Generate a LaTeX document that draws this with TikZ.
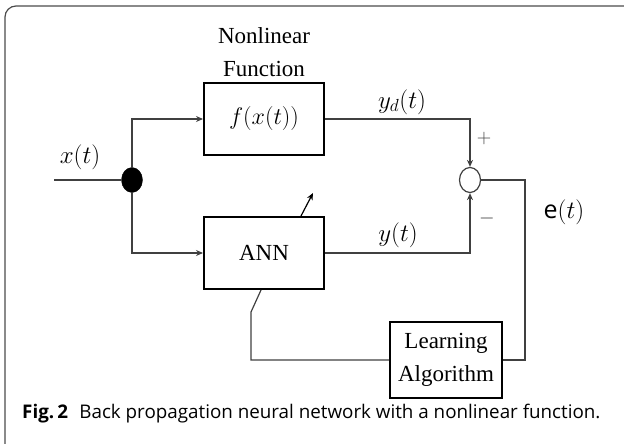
\RequirePackage{fix-cm}
\documentclass[tikz,border=0pt]{standalone}
\usepackage{fontspec}
\setmainfont{Liberation Serif}
\newfontfamily\capfont{Open Sans}
\usetikzlibrary{shapes.geometric,arrows.meta}
\tikzset{
  blk/.style={draw=black,line width=2pt,rectangle,minimum width=120pt,minimum height=72pt,inner sep=0pt,font=\fontsize{23}{33}\selectfont,align=center},
  conn/.style={draw=black!75,line width=1.2pt},
  arr/.style={conn,-{Stealth[length=7pt,width=6pt]}},
  lbl/.style={font=\fontsize{25}{28}\selectfont,inner sep=0pt},
  sgn/.style={font=\fontsize{20}{22}\selectfont,inner sep=0pt,text=black!75},
}
\begin{document}
\begin{tikzpicture}[x=1pt,y=-1pt]
\useasboundingbox (0,0) rectangle (624,444);
\begin{scope}
\clip (0,0) rectangle (624,444);
\draw[black!70,line width=1.2pt,rounded corners=11pt] (5,6) rectangle (660,470);
\end{scope}
% text above
\node[font=\fontsize{23}{33}\selectfont,align=center,inner sep=0pt] (nl) at (264,52) {Nonlinear\\Function};
% blocks
\node[blk,font=\fontsize{24}{30}\selectfont] (fb) at (264,119) {$f(x(t))$};
\node[blk] (ann) at (264,253) {ANN};
\node[blk,minimum width=112pt,minimum height=76pt] (la) at (446,360) {Learning\\Algorithm};
\node[ellipse,fill=black,draw=black,minimum width=21pt,minimum height=25pt,inner sep=0pt] (dot) at (132,180) {};
\node[ellipse,draw=black!75,line width=1.2pt,minimum width=21pt,minimum height=25pt,inner sep=0pt] (sum) at (470,180) {};
% coordinates
\coordinate (in) at (54,180);
\coordinate (r) at (525,180);
\coordinate (lb) at (251,360);
\coordinate (lk) at (251,312);
\coordinate (ad) at (313,193);
% connectors
\draw[conn] (in) -- (dot.west);
\draw[arr] (dot.north) |- (fb.west);
\draw[arr] (dot.south) |- (ann.west);
\draw[arr] (fb.east) -| (sum.north);
\draw[arr] (ann.east) -| (sum.south);
\draw[conn] (sum.east) -- (r) |- (la.east);
\draw[conn] (la.west) -- (lb) -- (lk) -- ([xshift=-3pt]ann.south);
\draw[line width=1.2pt,-{Stealth[length=7pt,width=6pt]}] ([xshift=37pt]ann.north) -- (ad);
% labels
\node[lbl] (xl) at (80,157) {$x(t)$};
\node[lbl] (ydl) at (402,102) {$y_d(t)$};
\node[lbl] (yl) at (398,235) {$y(t)$};
\node[lbl] (el) at (564,212) {{\capfont e}$(t)$};
\node[sgn] (pl) at (484,139) {$+$};
\node[sgn] (mi) at (487,218) {$-$};
% caption
\node[anchor=west,inner sep=0pt,font=\capfont\fontsize{18.8}{21}\selectfont] (cap) at (22,414) {\textbf{Fig.\,2}\hspace{0.6em}Back propagation neural network with a nonlinear function.};
\end{tikzpicture}
\end{document}
